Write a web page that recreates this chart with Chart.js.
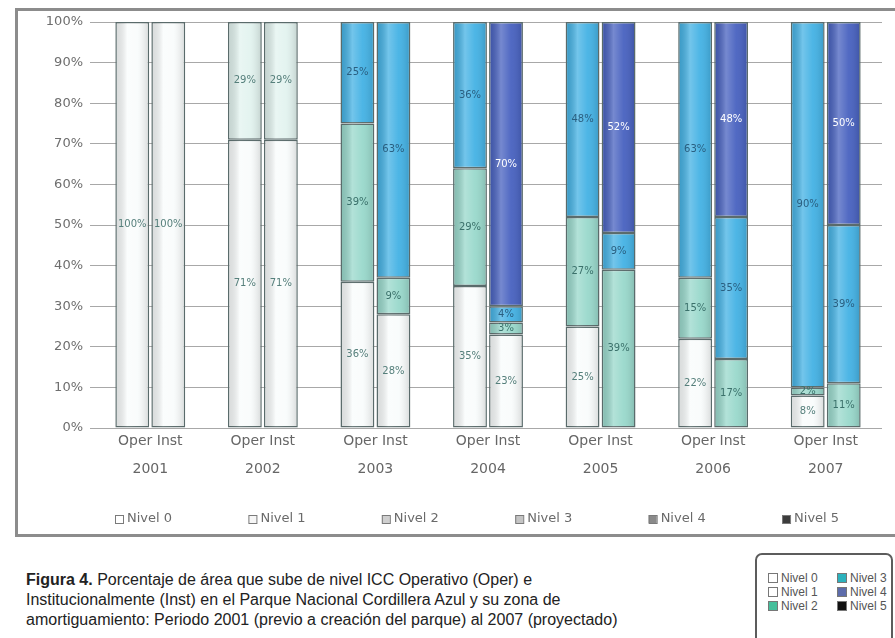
<!DOCTYPE html>
<html>
<head>
<meta charset="utf-8">
<script src="https://cdn.jsdelivr.net/npm/chart.js@4.4.1/dist/chart.umd.min.js"></script>
<style>
  html, body { margin: 0; padding: 0; background: #fff; width: 895px; height: 638px; overflow: hidden; }
  #frame { position: absolute; left: 15px; top: 8px; width: 900px; height: 523px; border: 3px solid #8c8c8c; background: #fff; }
  #frame canvas { position: absolute; left: 0; top: 0; }
  #caption { position: absolute; left: 26px; top: 570px; font-family: "Liberation Sans", Arial, sans-serif; font-size: 16px; line-height: 20px; color: #222; white-space: nowrap; }
  #key { position: absolute; left: 755px; top: 553px; width: 134px; height: 110px; border: 2px solid #5c5c5c; border-radius: 7px; background: #fff; font-family: "Liberation Sans", Arial, sans-serif; font-size: 12px; color: #555; }
  #key .k { position: absolute; line-height: 14px; white-space: nowrap; }
  #key .k i { display: inline-block; width: 8px; height: 8px; border: 1px solid #777; margin-right: 3px; vertical-align: -1px; }
</style>
</head>
<body>
<div id="frame"><canvas id="chart" width="880" height="523"></canvas></div>

<div id="caption"><b>Figura 4.</b> Porcentaje de área que sube de nivel ICC Operativo (Oper) e<br>Institucionalmente (Inst) en el Parque Nacional Cordillera Azul y su zona de<br>amortiguamiento: Periodo 2001 (previo a creación del parque) al 2007 (proyectado)</div>

<div id="key">
  <div class="k" style="left:11px;top:16px"><i style="background:#fff"></i>Nivel 0</div>
  <div class="k" style="left:11px;top:30px"><i style="background:#fff"></i>Nivel 1</div>
  <div class="k" style="left:11px;top:44px"><i style="background:#46bf9c"></i>Nivel 2</div>
  <div class="k" style="left:80px;top:16px"><i style="background:#2cb2bd"></i>Nivel 3</div>
  <div class="k" style="left:80px;top:30px"><i style="background:#5d6cab"></i>Nivel 4</div>
  <div class="k" style="left:80px;top:44px"><i style="background:#111"></i>Nivel 5</div>
</div>

<script>
// Years on the category axis
const years = ['2001', '2002', '2003', '2004', '2005', '2006', '2007'];
const levelNames = ['Nivel 0', 'Nivel 1', 'Nivel 2', 'Nivel 3', 'Nivel 4', 'Nivel 5'];

// Percentage of area per ICC level, operational (Oper)
const operNivel0 = [100, 71, 36, 35, 25, 22, 8];
const operNivel1 = [null, 29, null, null, null, null, null];
const operNivel2 = [null, null, 39, 29, 27, 15, 2];
const operNivel3 = [null, null, 25, 36, 48, 63, 90];
const operNivel4 = [null, null, null, null, null, null, null];
const operNivel5 = [null, null, null, null, null, null, null];

// Percentage of area per ICC level, institutional (Inst)
const instNivel0 = [100, 71, 28, 23, null, null, null];
const instNivel1 = [null, 29, null, null, null, null, null];
const instNivel2 = [null, null, 9, 3, 39, 17, 11];
const instNivel3 = [null, null, 63, 4, 9, 35, 39];
const instNivel4 = [null, null, null, 70, 52, 48, 50];
const instNivel5 = [null, null, null, null, null, null, null];

// Y axis ticks
const yTicks = [0, 10, 20, 30, 40, 50, 60, 70, 80, 90, 100];

const levelColors = ['#f9fcfc', '#e2f3ef', '#98d8cb', '#42b1e4', '#4660bf', '#1d2b6e'];
const valueColors = ['#557f7b', '#557f7b', '#3b716b', '#2a5f80', '#ffffff', '#ffffff'];
const swatchColors = ['#ffffff', '#f6f6f6', '#cfcfcf', '#c4c4c4', '#8a8a8a', '#3c3c3c'];

const operSeries = [operNivel0, operNivel1, operNivel2, operNivel3, operNivel4, operNivel5];
const instSeries = [instNivel0, instNivel1, instNivel2, instNivel3, instNivel4, instNivel5];

const datasets = [];
levelNames.forEach((name, i) => {
  datasets.push({ label: name, level: i, stack: 'Oper', data: operSeries[i], backgroundColor: levelColors[i] });
  datasets.push({ label: name, level: i, stack: 'Inst', data: instSeries[i], backgroundColor: levelColors[i] });
});

const FONT = '"DejaVu Sans", Verdana, sans-serif';

// Soft shading across each bar and percentage text in every segment
const barDecor = {
  id: 'barDecor',
  afterDatasetsDraw(chart) {
    const ctx = chart.ctx;
    ctx.save();
    chart.data.datasets.forEach((ds, di) => {
      const meta = chart.getDatasetMeta(di);
      meta.data.forEach((el, idx) => {
        const v = ds.data[idx];
        if (v === null || v === undefined) return;
        const p = el.getProps(['x', 'y', 'base', 'width'], true);
        const left = p.x - p.width / 2;
        const top = Math.min(p.y, p.base);
        const h = Math.abs(p.base - p.y);
        const g = ctx.createLinearGradient(left, 0, left + p.width, 0);
        g.addColorStop(0, 'rgba(0,0,0,0.12)');
        g.addColorStop(0.35, 'rgba(255,255,255,0.26)');
        g.addColorStop(0.65, 'rgba(255,255,255,0.06)');
        g.addColorStop(1, 'rgba(0,0,0,0.14)');
        ctx.fillStyle = g;
        ctx.fillRect(left + 1.5, top + 1, p.width - 3, h - 2);
      });
    });
    ctx.font = '10px ' + FONT;
    ctx.textAlign = 'center';
    ctx.textBaseline = 'middle';
    chart.data.datasets.forEach((ds, di) => {
      const meta = chart.getDatasetMeta(di);
      meta.data.forEach((el, idx) => {
        const v = ds.data[idx];
        if (v === null || v === undefined) return;
        const p = el.getProps(['x', 'y', 'base'], true);
        ctx.fillStyle = valueColors[ds.level];
        ctx.fillText(v + '%', p.x, (p.y + p.base) / 2);
      });
    });
    ctx.restore();
  }
};

// Single row of level keys under the axis
const levelKey = {
  id: 'levelKey',
  afterDraw(chart) {
    const ctx = chart.ctx;
    const area = chart.chartArea;
    const step = area.width * 0.1693;
    const y = 508;
    ctx.save();
    ctx.font = '13px ' + FONT;
    ctx.textBaseline = 'middle';
    ctx.textAlign = 'left';
    levelNames.forEach((name, i) => {
      const x = area.left + 21 + i * step;
      ctx.fillStyle = swatchColors[i];
      ctx.fillRect(x, y - 4, 8, 8);
      ctx.strokeStyle = '#7a7a7a';
      ctx.lineWidth = 1;
      ctx.strokeRect(x + 0.5, y - 3.5, 8, 8);
      ctx.fillStyle = '#6a6a6a';
      ctx.fillText(name, x + 12, y);
    });
    ctx.restore();
  }
};

new Chart(document.getElementById('chart'), {
  type: 'bar',
  data: { labels: years, datasets },
  plugins: [barDecor, levelKey],
  options: {
    responsive: false,
    animation: false,
    layout: { padding: { left: 0, top: 11, right: 16, bottom: 0 } },
    datasets: {
      bar: {
        categoryPercentage: 0.64,
        barPercentage: 0.94,
        borderColor: '#5a6b6b',
        borderWidth: 1.5,
        borderSkipped: false
      }
    },
    plugins: {
      legend: { display: false },
      tooltip: { enabled: false }
    },
    scales: {
      x: {
        stacked: true,
        grid: { display: false },
        border: { display: false },
        afterFit(scale) { scale.height = 106; },
        ticks: {
          autoSkip: false,
          maxRotation: 0,
          padding: -9,
          color: '#666',
          font: { family: FONT, size: 14, lineHeight: 2 },
          callback: (v, i) => ['Oper Inst', years[i]]
        }
      },
      y: {
        stacked: true,
        min: 0,
        max: 100,
        afterFit(scale) {
          scale.width = 76;
          scale.paddingTop = 0;
          scale.paddingBottom = 0;
        },
        afterBuildTicks(scale) { scale.ticks = yTicks.map(v => ({ value: v })); },
        grid: { color: '#a8a8a8', lineWidth: 1, tickLength: 4 },
        border: { display: false },
        ticks: {
          padding: 7,
          color: '#6e6e6e',
          font: { family: FONT, size: 13 },
          callback: v => v + '%'
        }
      }
    }
  }
});
</script>
</body>
</html>
